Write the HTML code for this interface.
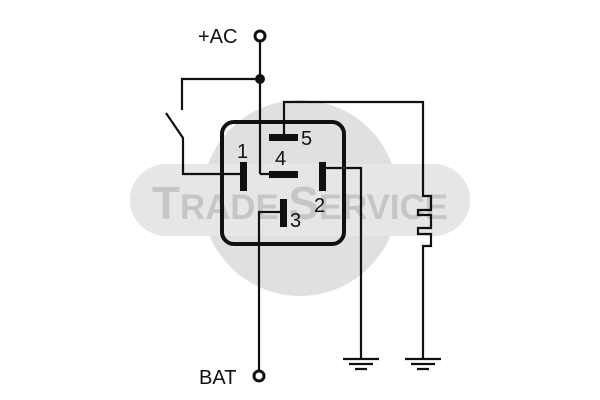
<!DOCTYPE html>
<html><head><style>body{margin:0;background:#fff}svg{display:block}</style></head><body>
<svg width="600" height="400" viewBox="0 0 600 400" xmlns="http://www.w3.org/2000/svg">
<circle cx="300" cy="198" r="98" fill="#e0e0e0"/>
<rect x="130" y="164" width="340" height="72" rx="36" fill="#e6e6e6"/>
<text x="300" y="219" text-anchor="middle" font-family="Liberation Sans, sans-serif" font-weight="bold" font-size="44" fill="#c6c6c6" textLength="296" lengthAdjust="spacingAndGlyphs"><tspan font-size="46">T</tspan><tspan font-size="35">RADE </tspan><tspan font-size="46">S</tspan><tspan font-size="35">ERVICE</tspan></text>
<g fill="none" stroke="#111" stroke-width="2.2">
<line x1="260" y1="41" x2="260" y2="174"/>
<path d="M260,174 H270"/>
<path d="M260,79 H182 V110"/>
<path d="M166,113 L183,138 V174 H243"/>
<path d="M284,137 V102 H423 V196 H431 V210 H418 V215 H431 V228 H418 V234 H431 V246 H423 V358"/>
<path d="M326,168 H361 V358"/>
<path d="M283,212 H259 V371"/>
<rect x="222" y="122" width="122" height="122" rx="12" stroke-width="4"/>
<circle cx="260" cy="36" r="5" stroke-width="3"/>
<circle cx="259" cy="376" r="5" stroke-width="3"/>
<path d="M343,359 H379 M349,364 H373 M355,369 H367 M405,359 H441 M411,364 H435 M417,369 H429"/>
</g>
<circle cx="260" cy="79" r="5" fill="#111"/>
<g fill="#111">
<rect x="240" y="162" width="7" height="29"/>
<rect x="269" y="171" width="29" height="7"/>
<rect x="269" y="134" width="29" height="7"/>
<rect x="319" y="162" width="7" height="29"/>
<rect x="280" y="199" width="7" height="28"/>
</g>
<g font-family="Liberation Sans, sans-serif" font-size="20" fill="#111">
<text x="198" y="43">+AC</text>
<text x="199" y="384">BAT</text>
<text x="237" y="158">1</text>
<text x="275" y="165">4</text>
<text x="301" y="145">5</text>
<text x="314" y="212">2</text>
<text x="290" y="227">3</text>
</g>
</svg>
</body></html>
